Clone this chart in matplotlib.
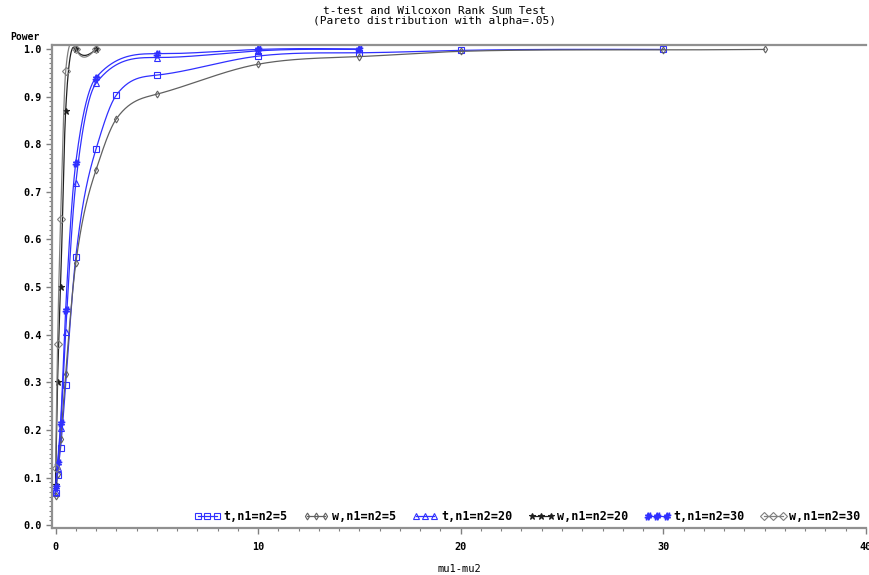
import numpy as np
import matplotlib
matplotlib.use("Agg")
import matplotlib.pyplot as plt
from matplotlib.ticker import MultipleLocator, FixedLocator
from matplotlib.font_manager import FontProperties

# power values
x_t5 = [0, 0.1, 0.25, 0.5, 1, 2, 3, 5, 10, 15, 20, 30]
t5 = [0.068, 0.105, 0.162, 0.295, 0.563, 0.790, 0.903, 0.945, 0.985, 0.992, 0.997, 0.999]

x_w5 = [0, 0.1, 0.25, 0.5, 1, 2, 3, 5, 10, 15, 20, 30, 35]
w5 = [0.062, 0.108, 0.180, 0.318, 0.550, 0.746, 0.853, 0.905, 0.968, 0.984, 0.995, 0.998, 0.999]

x_t20 = [0, 0.1, 0.25, 0.5, 1, 2, 5, 10, 15]
t20 = [0.070, 0.120, 0.205, 0.405, 0.718, 0.928, 0.982, 0.996, 0.999]

x_w20 = [0, 0.1, 0.25, 0.5, 1, 2]
w20 = [0.085, 0.300, 0.500, 0.870, 1.000, 0.999]

x_t30 = [0, 0.1, 0.25, 0.5, 1, 2, 5, 10, 15]
t30 = [0.080, 0.130, 0.214, 0.452, 0.761, 0.940, 0.990, 0.999, 1.000]

x_w30 = [0, 0.1, 0.25, 0.5, 1, 2]
w30 = [0.120, 0.380, 0.643, 0.953, 1.000, 1.000]

labels = ['t,n1=n2=5', 'w,n1=n2=5', 't,n1=n2=20', 'w,n1=n2=20', 't,n1=n2=30', 'w,n1=n2=30']


def natural(x, y, t):
    k = len(x)
    h = np.diff(x)
    A = np.zeros((k, k))
    b = np.zeros(k)
    A[0, 0] = A[-1, -1] = 1
    for i in range(1, k - 1):
        A[i, i - 1] = h[i - 1]
        A[i, i] = 2 * (h[i - 1] + h[i])
        A[i, i + 1] = h[i]
        b[i] = 6 * ((y[i + 1] - y[i]) / h[i] - (y[i] - y[i - 1]) / h[i - 1])
    m = np.linalg.solve(A, b)
    i = np.clip(np.searchsorted(x, t) - 1, 0, k - 2)
    a = x[i + 1] - t
    c = t - x[i]
    hi = h[i]
    return (m[i] * a**3 + m[i + 1] * c**3) / (6 * hi) \
        + (y[i] / hi - m[i] * hi / 6) * a + (y[i + 1] / hi - m[i + 1] * hi / 6) * c


def pchip(x, y, t):
    k = len(x)
    h = np.diff(x)
    d = np.diff(y) / h
    m = np.zeros(k)
    for j in range(1, k - 1):
        if d[j - 1] * d[j] > 0:
            w1 = 2 * h[j] + h[j - 1]
            w2 = h[j] + 2 * h[j - 1]
            m[j] = (w1 + w2) / (w1 / d[j - 1] + w2 / d[j])
    m[0], m[-1] = d[0], d[-1]
    i = np.clip(np.searchsorted(x, t) - 1, 0, k - 2)
    s = (t - x[i]) / h[i]
    h00 = 2 * s**3 - 3 * s**2 + 1
    h10 = s**3 - 2 * s**2 + s
    h01 = -2 * s**3 + 3 * s**2
    h11 = s**3 - s**2
    return h00 * y[i] + h10 * h[i] * m[i] + h01 * y[i + 1] + h11 * h[i] * m[i + 1]


def smooth(x, y):
    # SAS-like spline, with the overshoot toned down
    x = np.asarray(x, float)
    y = np.asarray(y, float)
    t = np.concatenate([np.linspace(x[j], x[j + 1], 60) for j in range(len(x) - 1)])
    return t, 0.45 * natural(x, y, t) + 0.55 * pchip(x, y, t)


blue = '#3030ff'
series = [
    (x_t5, t5, blue, 's', 4.5, labels[0]),
    (x_w5, w5, '#606060', 'd', 3.5, labels[1]),
    (x_t20, t20, blue, '^', 4.5, labels[2]),
    (x_w20, w20, '#202020', '*', 5, labels[3]),
    (x_t30, t30, blue, r'$\#$', 5, labels[4]),
    (x_w30, w30, '#808080', 'D', 4, labels[5]),
]

fig = plt.figure(figsize=(8.69, 5.75), dpi=100)
ax = fig.add_axes([0.0604, 0.0817, 0.936, 0.8406])

handles = []
for xs, ys, col, mk, ms, lab in series:
    sx, sy = smooth(xs, ys)
    ax.plot(sx, sy, color=col, lw=0.9)
    filled = mk in ('*', r'$\#$')
    ax.plot(xs, ys, ls='none', marker=mk, ms=ms, mew=0.8, color=col,
            mfc=col if filled else 'none')
    h, = ax.plot([], [], color=col, lw=0.9, marker=mk, ms=ms, mew=0.8,
                 mfc=col if filled else 'none', label=lab)
    handles.append(h)

ax.set_xlim(-0.15, 40)
ax.set_ylim(-0.006, 1.009)

ax.xaxis.set_major_locator(FixedLocator([0, 10, 20, 30, 40]))
ax.xaxis.set_minor_locator(MultipleLocator(1))
ax.yaxis.set_minor_locator(MultipleLocator(0.01))
ax.set_yticks(np.arange(0, 1.01, 0.1))
ax.set_yticklabels([f'{v:.1f}' for v in np.arange(0, 1.01, 0.1)])

tick_fp = FontProperties(family='DejaVu Sans Mono', weight='bold', size=7.3)
for lab in ax.get_xticklabels() + ax.get_yticklabels():
    lab.set_fontproperties(tick_fp)

ax.tick_params(which='both', direction='out', color='#808080')
ax.tick_params(which='major', length=4, width=1)
ax.tick_params(which='minor', length=2.5, width=0.8)
ax.tick_params(axis='x', which='major', pad=6)
ax.tick_params(axis='y', which='major', pad=4)

for side in ('left', 'bottom', 'top'):
    ax.spines[side].set_color('#909090')
    ax.spines[side].set_linewidth(1.6)
ax.spines['right'].set_visible(False)

ax.set_xlabel('mu1-mu2', fontfamily='DejaVu Sans Mono', fontsize=7.5, labelpad=9)
fig.text(0.012, 0.935, 'Power', fontfamily='DejaVu Sans Mono', fontweight='bold',
         fontsize=7, va='center')
fig.text(0.5, 0.981, 't-test and Wilcoxon Rank Sum Test', ha='center', va='center',
         fontfamily='DejaVu Sans Mono', fontsize=8)
fig.text(0.5, 0.963, '(Pareto distribution with alpha=.05)', ha='center', va='center',
         fontfamily='DejaVu Sans Mono', fontsize=8)

ax.legend(handles=handles, ncol=6, loc='lower right', bbox_to_anchor=(1.0, 0.0),
          frameon=False, numpoints=3, handlelength=2.2, handletextpad=0.25,
          columnspacing=1.35, borderaxespad=0.1, borderpad=0.35,
          prop=dict(family='DejaVu Sans Mono', weight='bold', size=8.5))

fig.savefig('out.png', dpi=100)
